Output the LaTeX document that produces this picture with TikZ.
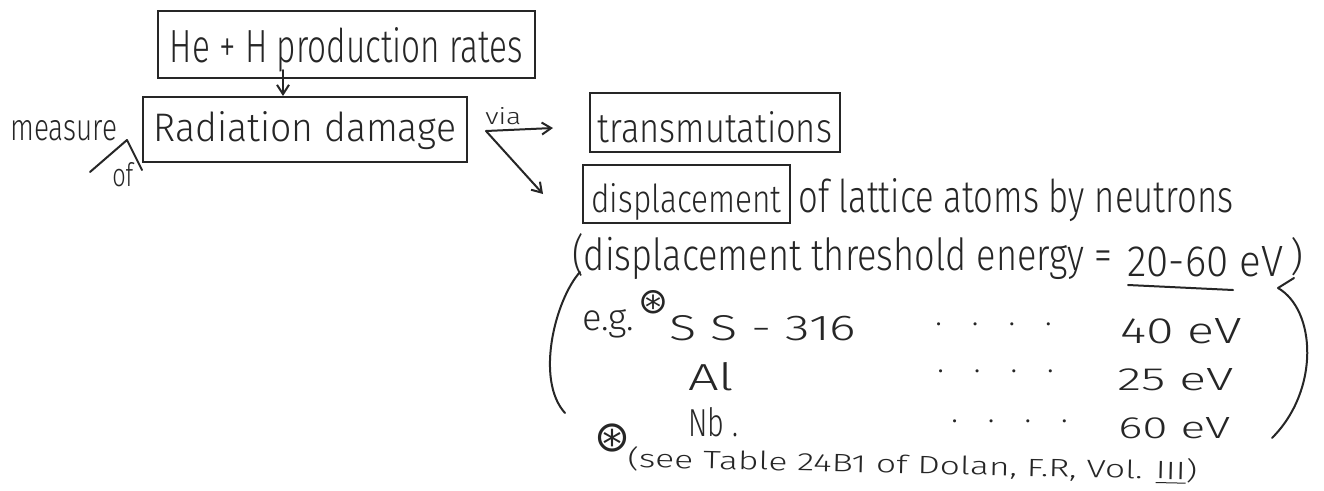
\documentclass[tikz,border=0pt]{standalone}
\usepackage{fontspec}
\setmainfont{Fira Sans Light}
\newfontfamily\symfont{DejaVu Sans}
\usetikzlibrary{arrows.meta}
\definecolor{inkc}{HTML}{262626}
\newlength\upx
\setlength\upx{0.75pt}
% text scaled to a given width and height (in px units)
\newcommand\hw[2]{\resizebox{#1\upx}{!}{#2}}
\newcommand\hwh[3]{\resizebox{#1\upx}{#2\upx}{#3}}
% boxed text: shifted down from the box centre, taking no room of its own
\newcommand\boxed[2]{\raisebox{-#1\upx}[0pt][0pt]{#2}}
\newcommand\dotrow{.\hspace{30\upx}.\hspace{30\upx}.\hspace{30\upx}.}

\begin{document}
\begin{tikzpicture}[x=0.75pt,y=-0.75pt,
  ink/.style={draw=inkc,line width=1.5pt,line cap=round,line join=round},
  box/.style={draw=inkc,line width=1.5pt,inner sep=0pt,text=inkc},
  lbl/.style={inner sep=0pt,text=inkc,anchor=base west},
  dots/.style={lbl,font=\fontsize{24}{28}\selectfont},
  arr/.style={ink,-{Straight Barb[length=7pt,width=9pt,line width=1.5pt]}}]
\useasboundingbox (0,0) rectangle (1324,490);
\fill[white] (0,0) rectangle (1324,490);

% boxed terms
\node[box,minimum width=377\upx,minimum height=67\upx] (he) at (346.5,44.5)
  {\boxed{17.5}{\hwh{353}{35}{He + H production rates}}};
\node[box,minimum width=324\upx,minimum height=65\upx] (rad) at (305,129.5)
  {\boxed{11.5}{\hwh{302}{30}{Radiation damage}}};
\node[box,minimum width=250\upx,minimum height=59\upx] (trans) at (715,122.5)
  {\boxed{20}{\hwh{234}{31}{transmutations}}};
\node[box,minimum width=207\upx,minimum height=58\upx] (disp) at (686.5,194)
  {\boxed{18}{\hwh{190}{29}{displacement}}};

% left annotation
\node[lbl] (meas) at (10,140) {\hwh{107}{20}{measure}};
\node[lbl] (of) at (112,186) {\hwh{21}{24}{of}};
\draw[ink] (90,172) -- (127,140) -- (142,170);

% arrows between terms
\coordinate (heout) at (283,70);
\draw[arr] (heout) -- (heout |- rad.north);
\node[lbl] (via) at (485,124) {\hwh{36}{17}{via}};
\coordinate (fork) at (486,131);
\coordinate (t1) at (553,128);
\coordinate (t2) at (543,194);
\draw[arr] (fork) -- (t1);
\draw[arr] (fork) -- (t2);

% description lines
\node[lbl] (latt) at (798,212) {\hwh{435}{34}{of lattice atoms by neutrons}};
\node[lbl] (thrA) at (572,270) {\hwh{540}{37}{(displacement threshold energy =}};
\node[lbl] (thrB) at (1127,276) {\hwh{156}{30}{20-60 eV}};
\node[lbl] (close) at (1290,270) {\hwh{13}{33}{)}};
\draw[ink] (1128,285) -- (1233,290);

% examples
\node[lbl] (eg) at (582,330) {\hwh{52}{21}{e.g.}};
\node[inner sep=0pt,text=inkc] (star1) at (653,302) {\hw{30}{\symfont ⊛}};
\node[lbl] (ss) at (669,340) {\hwh{187}{25}{S S - 316}};
\node[dots] (d1) at (935,325) {\dotrow};
\node[lbl] (e40) at (1120,343) {\hwh{122}{25}{40 eV}};
\node[lbl] (al) at (688,390) {\hwh{46}{28}{Al}};
\node[dots] (d2) at (937,372) {\dotrow};
\node[lbl] (e25) at (1117,390) {\hwh{116}{22}{25 eV}};
\node[lbl] (nb) at (688,436) {\hwh{50}{29}{Nb .}};
\node[dots] (d3) at (951,422) {\dotrow};
\node[lbl] (e60) at (1118,438) {\hwh{112}{21}{60 eV}};

% brackets round the examples
\draw[ink] (580,272) .. controls (555,300) and (535,380) .. (565,413);
\draw[ink] (1294,278) -- (1278,288) .. controls (1316,310) and (1320,390) .. (1272,438);

% footnote
\node[inner sep=0pt,text=inkc] (star2) at (612,438) {\hw{36}{\symfont ⊛}};
\node[lbl,rotate=-1.3] (foot) at (627,467)
  {\hwh{570}{21}{(see Table 24B1 of Dolan, F.R, Vol. \underline{III})}};
\end{tikzpicture}
\end{document}
